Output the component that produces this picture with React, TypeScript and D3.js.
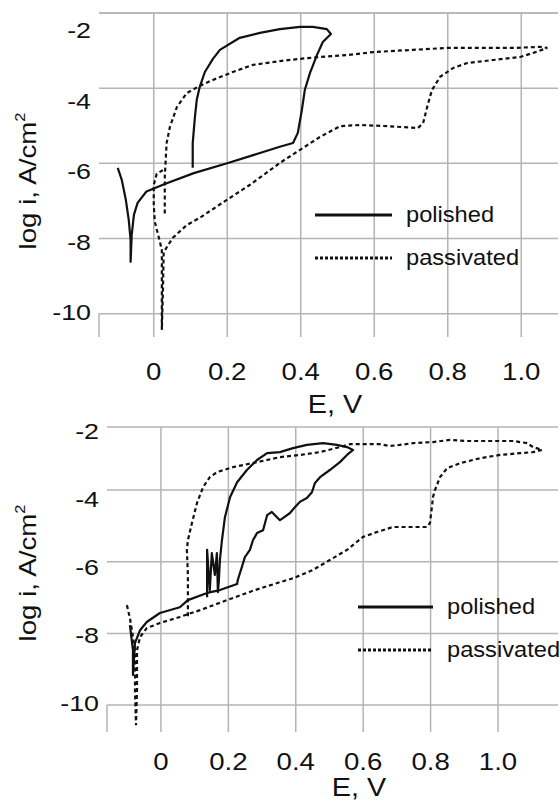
import * as d3 from "d3";

const xTicks = [0, 0.2, 0.4, 0.6, 0.8, 1.0];
const xTickLabels = ["0", "0.2", "0.4", "0.6", "0.8", "1.0"];
const yTicks = [-2, -4, -6, -8, -10];
const yTickLabels = ["-2", "-4", "-6", "-8", "-10"];
const seriesNames = ["polished", "passivated"];

// [E (V), log i]
const topPolished: [number, number][] = [
  [-0.098, -6.12], [-0.087, -6.44], [-0.076, -6.97], [-0.068, -7.51], [-0.063, -8.04],
  [-0.063, -8.62], [-0.06, -7.9], [-0.054, -7.37], [-0.044, -7.05], [-0.02, -6.75],
  [0.03, -6.55], [0.109, -6.26], [0.202, -5.99], [0.343, -5.56], [0.379, -5.46],
  [0.392, -5.19], [0.403, -4.58], [0.411, -4.05], [0.425, -3.6], [0.444, -3.12],
  [0.46, -2.77], [0.482, -2.56], [0.471, -2.43], [0.433, -2.37], [0.398, -2.37],
  [0.343, -2.43], [0.289, -2.53], [0.234, -2.66], [0.18, -2.98], [0.161, -3.22],
  [0.139, -3.57], [0.125, -3.97], [0.117, -4.31], [0.112, -4.77], [0.106, -5.46],
  [0.106, -6.12],
];

const topPassivated: [number, number][] = [
  [0.025, -6.18], [0.008, -6.28], [0.0, -6.57], [0.0, -7.11], [0.003, -7.56],
  [0.014, -7.98], [0.022, -8.3], [0.022, -9.37], [0.022, -10.43], [0.025, -9.37],
  [0.027, -8.36], [0.052, -7.98], [0.09, -7.64], [0.125, -7.45], [0.199, -6.97],
  [0.262, -6.57], [0.343, -5.99], [0.398, -5.64], [0.452, -5.3], [0.507, -5.01],
  [0.561, -4.98], [0.635, -5.01], [0.719, -5.06], [0.733, -4.93], [0.744, -4.5],
  [0.757, -4.05], [0.779, -3.7], [0.815, -3.46], [0.853, -3.33], [0.924, -3.25],
  [0.997, -3.17], [1.033, -3.06], [1.071, -2.93], [1.052, -2.9], [0.978, -2.93],
  [0.888, -2.93], [0.798, -2.93], [0.706, -2.98], [0.597, -3.04], [0.526, -3.12],
  [0.452, -3.17], [0.398, -3.22], [0.343, -3.28], [0.27, -3.38], [0.215, -3.57],
  [0.161, -3.78], [0.125, -3.94], [0.09, -4.13], [0.063, -4.5], [0.044, -5.03],
  [0.035, -5.46], [0.03, -6.36], [0.03, -7.37],
];

const bottomPolished: [number, number][] = [
  [-0.092, -7.77], [-0.083, -8.47], [-0.083, -9.16], [-0.077, -8.27], [-0.062, -7.91],
  [-0.042, -7.68], [-0.003, -7.43], [0.056, -7.27], [0.08, -7.07], [0.137, -6.87],
  [0.175, -6.79], [0.226, -6.62], [0.228, -6.51], [0.24, -6.15], [0.249, -5.87],
  [0.264, -5.67], [0.273, -5.4], [0.285, -5.2], [0.303, -5.12], [0.315, -4.7],
  [0.329, -4.61], [0.353, -4.84], [0.362, -4.78], [0.383, -4.64], [0.398, -4.47],
  [0.412, -4.33], [0.433, -4.22], [0.448, -4.06], [0.457, -3.8], [0.472, -3.64],
  [0.501, -3.44], [0.531, -3.22], [0.552, -3.02], [0.57, -2.88], [0.552, -2.8],
  [0.522, -2.74], [0.481, -2.69], [0.433, -2.74], [0.392, -2.83], [0.353, -2.94],
  [0.315, -2.97], [0.285, -3.16], [0.255, -3.44], [0.226, -3.78], [0.205, -4.2],
  [0.19, -4.75], [0.181, -5.4], [0.175, -5.95], [0.172, -6.51], [0.169, -6.85],
  [0.166, -5.76], [0.16, -6.37], [0.151, -5.76], [0.145, -6.79], [0.137, -5.67],
  [0.137, -6.99],
];

const bottomPassivated: [number, number][] = [
  [-0.101, -7.21], [-0.092, -7.57], [-0.086, -7.91], [-0.077, -8.47], [-0.077, -9.58],
  [-0.074, -10.56], [-0.071, -9.58], [-0.071, -8.47], [-0.062, -8.1], [-0.042, -7.85],
  [-0.003, -7.71], [0.056, -7.54], [0.116, -7.35], [0.196, -7.07], [0.279, -6.79],
  [0.353, -6.57], [0.392, -6.46], [0.451, -6.23], [0.501, -5.95], [0.552, -5.67],
  [0.599, -5.31], [0.641, -5.17], [0.688, -5.03], [0.739, -5.03], [0.789, -5.03],
  [0.798, -4.92], [0.804, -4.47], [0.807, -4.2], [0.813, -4.0], [0.828, -3.64],
  [0.849, -3.39], [0.887, -3.25], [0.947, -3.11], [1.006, -3.02], [1.065, -2.97],
  [1.104, -2.94], [1.131, -2.88], [1.104, -2.8], [1.086, -2.69], [1.045, -2.63],
  [0.997, -2.63], [0.908, -2.63], [0.858, -2.6], [0.807, -2.66], [0.748, -2.69],
  [0.709, -2.74], [0.68, -2.77], [0.65, -2.72], [0.599, -2.72], [0.561, -2.72],
  [0.531, -2.8], [0.472, -2.94], [0.412, -3.02], [0.353, -3.08], [0.285, -3.22],
  [0.214, -3.36], [0.166, -3.5], [0.145, -3.64], [0.125, -3.92], [0.107, -4.36],
  [0.092, -4.92], [0.08, -5.4], [0.077, -5.67], [0.08, -6.37], [0.08, -7.07],
  [0.08, -7.57],
];

const FONT = "'Liberation Sans', Arial, sans-serif";
const GRID = "#b4b4b4";
const DOTS = "4 3";

function Label({ x, y, size, anchor = "start", sx = 1.18, rotate = false, children }: any) {
  return (
    <text
      transform={`translate(${x},${y})${rotate ? " rotate(-90)" : ""} scale(${sx},1)`}
      fontSize={size}
      fontFamily={FONT}
      textAnchor={anchor}
      fill="#111"
    >
      {children}
    </text>
  );
}

function Panel({ cfg, polished, passivated }: any) {
  const x = d3.scaleLinear().domain(cfg.xDomain).range([cfg.left, cfg.right]);
  const y = d3.scaleLinear().domain(cfg.yDomain).range([cfg.top, cfg.bottom]);
  const yLab = d3.scaleLinear().domain([-2, -10]).range(cfg.yLabelRange);
  const line = d3
    .line<[number, number]>()
    .x((d) => x(d[0]))
    .y((d) => y(d[1]));

  return (
    <g>
      {/* grid */}
      <line x1={cfg.left} x2={cfg.right} y1={cfg.top} y2={cfg.top} stroke={GRID} strokeWidth={1.5} />
      {yTicks
        .filter((t) => t <= cfg.yDomain[0] && t >= cfg.yDomain[1])
        .map((t) => (
          <line key={t} x1={cfg.left} x2={cfg.right} y1={y(t)} y2={y(t)} stroke={GRID} strokeWidth={1.5} />
        ))}
      {xTicks.map((t) => (
        <line key={t} x1={x(t)} x2={x(t)} y1={cfg.top} y2={cfg.bottom} stroke={GRID} strokeWidth={1.5} />
      ))}
      <line x1={cfg.left} x2={cfg.left} y1={y(-10)} y2={cfg.bottom} stroke={GRID} strokeWidth={1.5} />

      {/* tick labels */}
      {yTicks.map((t, i) => (
        <Label key={t} x={cfg.left - 8} y={yLab(t) + 8} size={22} anchor="end" sx={1.22}>
          {yTickLabels[i]}
        </Label>
      ))}
      {xTicks.map((t, i) => (
        <Label key={t} x={x(t)} y={cfg.xLabelY} size={24} anchor="middle" sx={1.15}>
          {xTickLabels[i]}
        </Label>
      ))}
      <Label x={cfg.xTitleX} y={cfg.xTitleY} size={25} anchor="middle" sx={1.15}>
        E, V
      </Label>
      <Label x={36} y={cfg.yTitleY} size={23.5} anchor="middle" rotate sx={1.18}>
        log i, A/cm<tspan fontSize={14} dy={-11}>2</tspan>
      </Label>

      {/* curves */}
      <path d={line(polished) ?? ""} fill="none" stroke="#111" strokeWidth={2.2} strokeLinejoin="round" />
      <path d={line(passivated) ?? ""} fill="none" stroke="#111" strokeWidth={2.2} strokeDasharray={DOTS} />

      {/* legend */}
      <line x1={cfg.legX1} x2={cfg.legX2} y1={cfg.legY} y2={cfg.legY} stroke="#111" strokeWidth={3} />
      <line
        x1={cfg.legX1}
        x2={cfg.legX2}
        y1={cfg.legY + 43}
        y2={cfg.legY + 43}
        stroke="#111"
        strokeWidth={3}
        strokeDasharray="3 2"
      />
      <Label x={cfg.legX2 + 14} y={cfg.legY + 7} size={21.5} sx={1.1}>
        {seriesNames[0]}
      </Label>
      <Label x={cfg.legX2 + 14} y={cfg.legY + 50} size={21.5} sx={1.1}>
        {seriesNames[1]}
      </Label>
    </g>
  );
}

const topCfg = {
  xDomain: [-0.149, 1.1],
  yDomain: [-2, -10.62],
  left: 99,
  right: 558,
  top: 13,
  bottom: 337,
  yLabelRange: [30, 312],
  xLabelY: 380,
  xTitleX: 335,
  xTitleY: 413,
  yTitleY: 181,
  legX1: 315,
  legX2: 392,
  legY: 215,
};

const bottomCfg = {
  xDomain: [-0.16, 1.178],
  yDomain: [-2.24, -10.75],
  left: 107,
  right: 558,
  top: 427,
  bottom: 732,
  yLabelRange: [431, 703],
  xLabelY: 770,
  xTitleX: 359,
  xTitleY: 796,
  yTitleY: 573,
  legX1: 358,
  legX2: 433,
  legY: 607,
};

export default function App() {
  return (
    <svg
      width={560}
      height={804}
      style={{ position: "absolute", left: 0, top: 0, background: "#fff" }}
    >
      <Panel cfg={topCfg} polished={topPolished} passivated={topPassivated} />
      <Panel cfg={bottomCfg} polished={bottomPolished} passivated={bottomPassivated} />
    </svg>
  );
}
